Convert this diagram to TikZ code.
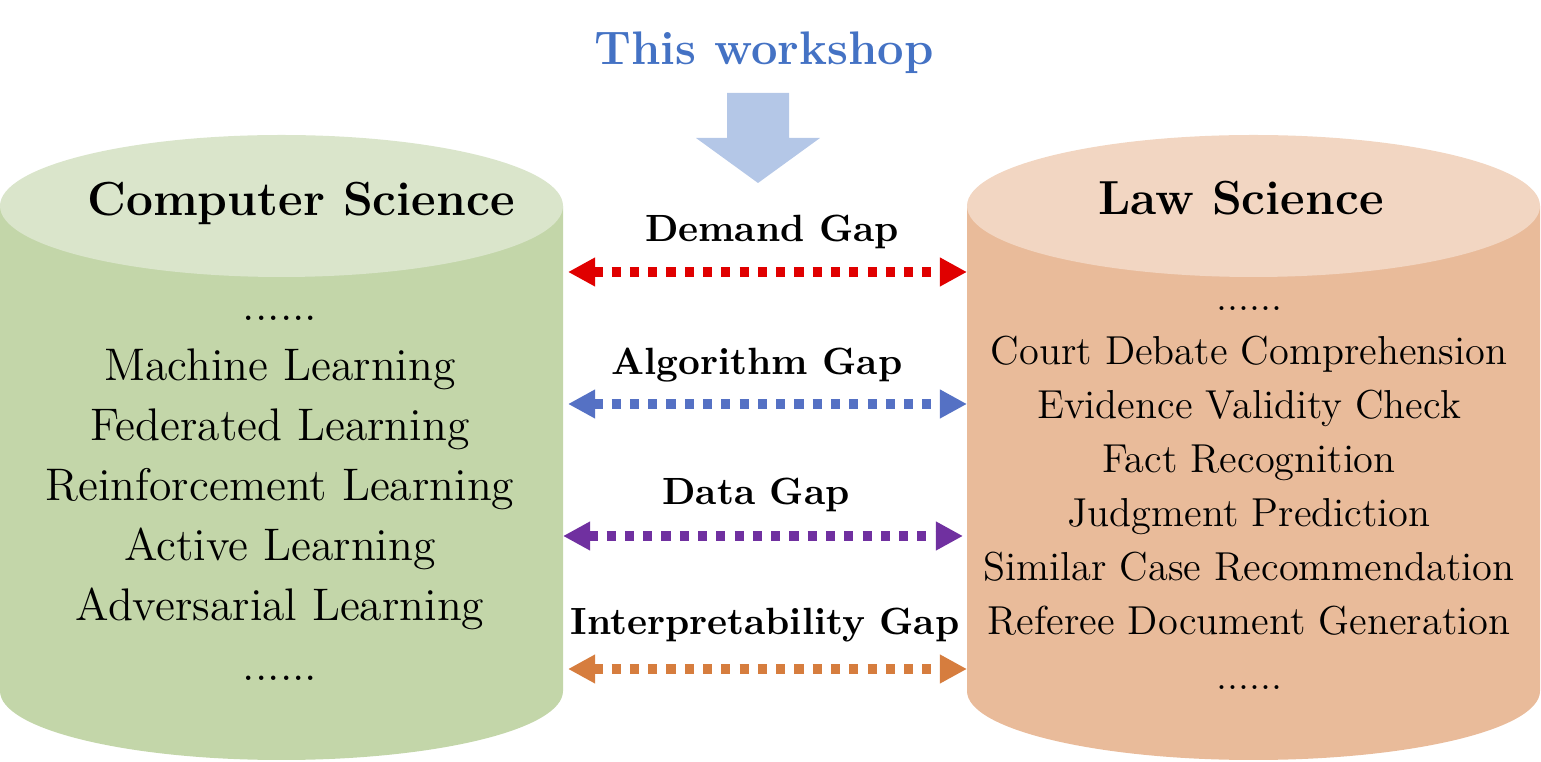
\documentclass[tikz,border=0pt]{standalone}
\usepackage{xcolor}
\usepackage{tikz}
\usetikzlibrary{arrows.meta}
\definecolor{wsBlue}{HTML}{4472C4}
\definecolor{wsArrow}{HTML}{B4C7E7}
\definecolor{csTop}{HTML}{DAE5CB}
\definecolor{csSide}{HTML}{C3D6A9}
\definecolor{lsTop}{HTML}{F2D6C2}
\definecolor{lsSide}{HTML}{E9BB9A}
\definecolor{gapRed}{HTML}{E00000}
\definecolor{gapBlue}{HTML}{5571C4}
\definecolor{gapPurple}{HTML}{7030A0}
\definecolor{gapOrange}{HTML}{D67D3E}
\tikzset{
gap/.style = {line width=2.6pt, dash pattern=on 2.6pt off 2.6pt,
              arrows={Triangle[length=7.7pt, width=7.7pt]-Triangle[length=7.7pt, width=7.7pt]}},
gaplabel/.style = {anchor=base, inner sep=0pt, font=\fontsize{10.8}{13}\selectfont\bfseries}
}
\tikzset{
head/.style = {anchor=base, inner sep=0pt, font=\fontsize{13.6}{16}\selectfont\bfseries},
csitem/.style = {anchor=base, inner sep=0pt, font=\fontsize{13}{15}\selectfont},
lsitem/.style = {anchor=base, inner sep=0pt, font=\fontsize{11.5}{13}\selectfont}
}

\begin{document}
\begin{tikzpicture}
    \useasboundingbox (0,0) rectangle (15.41,7.62);

    % title and its block arrow
    \node[anchor=base, inner sep=0pt, text=wsBlue, font=\fontsize{13.4}{16}\selectfont\bfseries] (title) at (7.64,6.97) {This workshop};
    \fill[wsArrow] (7.27,6.69) -- (7.89,6.69) -- (7.89,6.24) -- (8.20,6.24) -- (7.58,5.79) -- (6.96,6.24) -- (7.27,6.24) -- cycle;

    % cylinders
    \fill[csSide] (0,5.56) -- (0,0.71) arc[start angle=180, end angle=360, x radius=2.815, y radius=0.69] -- (5.63,5.56) -- cycle;
    \fill[csTop] (2.815,5.56) ellipse [x radius=2.815, y radius=0.71];
    \fill[lsSide] (9.67,5.56) -- (9.67,0.71) arc[start angle=180, end angle=360, x radius=2.865, y radius=0.69] -- (15.40,5.56) -- cycle;
    \fill[lsTop] (12.535,5.56) ellipse [x radius=2.865, y radius=0.71];

    \node[head] (csHead) at (3.01,5.46) {Computer Science};
    \node[head] (lsHead) at (12.41,5.47) {Law Science};

    \node[csitem] (csDotsA) at (2.80,4.41) {......};
    \node[csitem] (csML) at (2.80,3.81) {Machine Learning};
    \node[csitem] (csFL) at (2.80,3.21) {Federated Learning};
    \node[csitem] (csRL) at (2.80,2.61) {Reinforcement Learning};
    \node[csitem] (csAL) at (2.80,2.01) {Active Learning};
    \node[csitem] (csAdvL) at (2.80,1.41) {Adversarial Learning};
    \node[csitem] (csDotsB) at (2.80,0.81) {......};

    \node[lsitem] (lsDotsA) at (12.49,4.51) {......};
    \node[lsitem] (lsCourt) at (12.49,3.97) {Court Debate Comprehension};
    \node[lsitem] (lsEvid) at (12.49,3.43) {Evidence Validity Check};
    \node[lsitem] (lsFact) at (12.49,2.89) {Fact Recognition};
    \node[lsitem] (lsJudg) at (12.49,2.35) {Judgment Prediction};
    \node[lsitem] (lsSim) at (12.49,1.81) {Similar Case Recommendation};
    \node[lsitem] (lsRef) at (12.49,1.27) {Referee Document Generation};
    \node[lsitem] (lsDotsB) at (12.49,0.72) {......};

    % gaps between the two fields
    \coordinate (csE1) at (5.68,4.90);
    \coordinate (lsW1) at (9.67,4.90);
    \coordinate (csE2) at (5.68,3.58);
    \coordinate (lsW2) at (9.67,3.58);
    \coordinate (csE3) at (5.63,2.26);
    \coordinate (lsW3) at (9.63,2.26);
    \coordinate (csE4) at (5.68,0.93);
    \coordinate (lsW4) at (9.67,0.93);

    \node[gaplabel] (gapDemand) at (7.72,5.20) {Demand Gap};
    \node[gaplabel] (gapAlgo) at (7.57,3.87) {Algorithm Gap};
    \node[gaplabel] (gapData) at (7.56,2.57) {Data Gap};
    \node[gaplabel] (gapInterp) at (7.65,1.27) {Interpretability Gap};

    \draw[gap, gapRed]    (csE1) -- (lsW1);
    \draw[gap, gapBlue]   (csE2) -- (lsW2);
    \draw[gap, gapPurple] (csE3) -- (lsW3);
    \draw[gap, gapOrange] (csE4) -- (lsW4);
\end{tikzpicture}
\end{document}
